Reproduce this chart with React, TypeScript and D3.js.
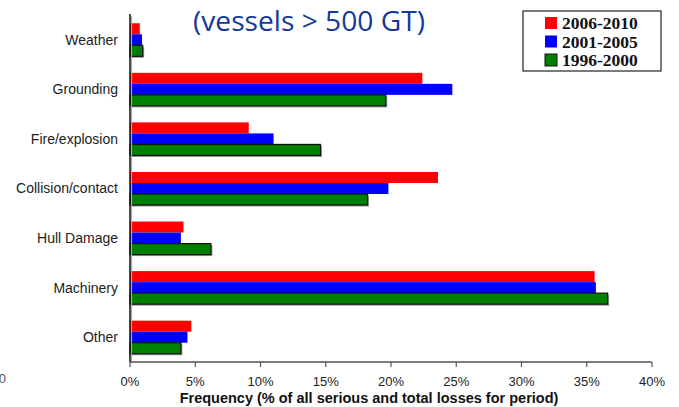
import React from "react";
import * as d3 from "d3";

const categories = ["Weather", "Grounding", "Fire/explosion", "Collision/contact", "Hull Damage", "Machinery", "Other"];
const seriesNames = ["2006-2010", "2001-2005", "1996-2000"];
const seriesColors = ["#ff0000", "#0000ff", "#008000"];
const values2006 = [0.75, 22.4, 9.1, 23.6, 4.1, 35.6, 4.7];
const values2001 = [0.92, 24.7, 11.0, 19.8, 3.9, 35.7, 4.4];
const values1996 = [0.97, 19.6, 14.6, 18.2, 6.2, 36.6, 3.9];
const xTicks = [0, 5, 10, 15, 20, 25, 30, 35, 40];

const series = [values2006, values2001, values1996];

export default function App() {
  const width = 679;
  const height = 407;
  const left = 130;
  const right = 652;
  const top = 15;
  const bottom = 362;

  const x = d3.scaleLinear().domain([0, 40]).range([left, right]);
  const y = d3.scaleBand<string>().domain(categories).range([top, bottom]).paddingInner(0.333).paddingOuter(0.1665);
  const sub = d3.scaleBand<number>().domain([0, 1, 2]).range([0, y.bandwidth()]);
  const fmt = (d: number) => `${d}%`;

  return (
    <svg width={width} height={height} style={{ position: "absolute", left: 0, top: 0, background: "#fff" }}>
      {/* bars */}
      {categories.map((c, ci) => (
        <g key={c} transform={`translate(0,${y(c)})`}>
          {series.map((vals, si) => {
            const yy = sub(si)!;
            const w = x(vals[ci]) - x(0);
            if (si === 2) {
              return (
                <g key={si}>
                  <rect x={x(0) + 1.5} y={yy + 1.5} width={w} height={sub.bandwidth()} fill="#999" />
                  <rect x={x(0)} y={yy} width={w} height={sub.bandwidth()} fill={seriesColors[si]} stroke="#111" strokeWidth={1.2} />
                </g>
              );
            }
            return <rect key={si} x={x(0)} y={yy} width={w} height={sub.bandwidth()} fill={seriesColors[si]} />;
          })}
        </g>
      ))}

      {/* y axis */}
      <line x1={left + 1.5} x2={left + 1.5} y1={top + 1} y2={bottom + 1} stroke="#aaa" strokeWidth={1.2} />
      <line x1={left} x2={left} y1={top - 1} y2={bottom} stroke="#111" strokeWidth={1.5} />
      {categories.map((c) => (
        <text
          key={c}
          x={118}
          y={y(c)! + y.bandwidth() / 2}
          dy="0.35em"
          textAnchor="end"
          fontFamily="Liberation Sans, Arial, sans-serif"
          fontSize={14}
          fill="#222"
        >
          {c}
        </text>
      ))}

      {/* x axis */}
      <line x1={left} x2={right} y1={bottom} y2={bottom} stroke="#555" strokeWidth={1.5} />
      {xTicks.map((t) => (
        <g key={t} transform={`translate(${x(t)},0)`}>
          <line y1={bottom} y2={bottom + 5} stroke="#555" strokeWidth={1.2} />
          <text y={386} textAnchor="middle" fontFamily="Liberation Sans, Arial, sans-serif" fontSize={13} fill="#222">
            {fmt(t)}
          </text>
        </g>
      ))}
      <text x={369} y={403} textAnchor="middle" fontFamily="Liberation Sans, Arial, sans-serif" fontSize={14.5} fontWeight="bold" fill="#111">
        Frequency (% of all serious and total losses for period)
      </text>
      <text x={6} y={383} textAnchor="end" fontFamily="Liberation Sans, Arial, sans-serif" fontSize={13} fill="#555">
        0
      </text>

      {/* title */}
      <text
        x={193}
        y={31}
        textLength={232}
        lengthAdjust="spacingAndGlyphs"
        fontFamily="Open Sans, Noto Sans, sans-serif"
        fontSize={28}
        fill="#12399a"
      >
        (vessels &gt; 500 GT)
      </text>

      {/* legend */}
      <rect x={523} y={11} width={138} height={60} fill="#fff" stroke="#222" strokeWidth={1.2} />
      {seriesNames.map((n, i) => (
        <g key={n} transform={`translate(545,${23 + i * 18.5})`}>
          <rect x={0} y={-6} width={12} height={12} fill={seriesColors[i]} stroke={i === 2 ? "#111" : "none"} strokeWidth={1} />
          <text x={17} y={0} dy="0.35em" fontFamily="Liberation Serif, Times New Roman, serif" fontSize={17.5} fontWeight="bold" fill="#111">
            {n}
          </text>
        </g>
      ))}
    </svg>
  );
}
